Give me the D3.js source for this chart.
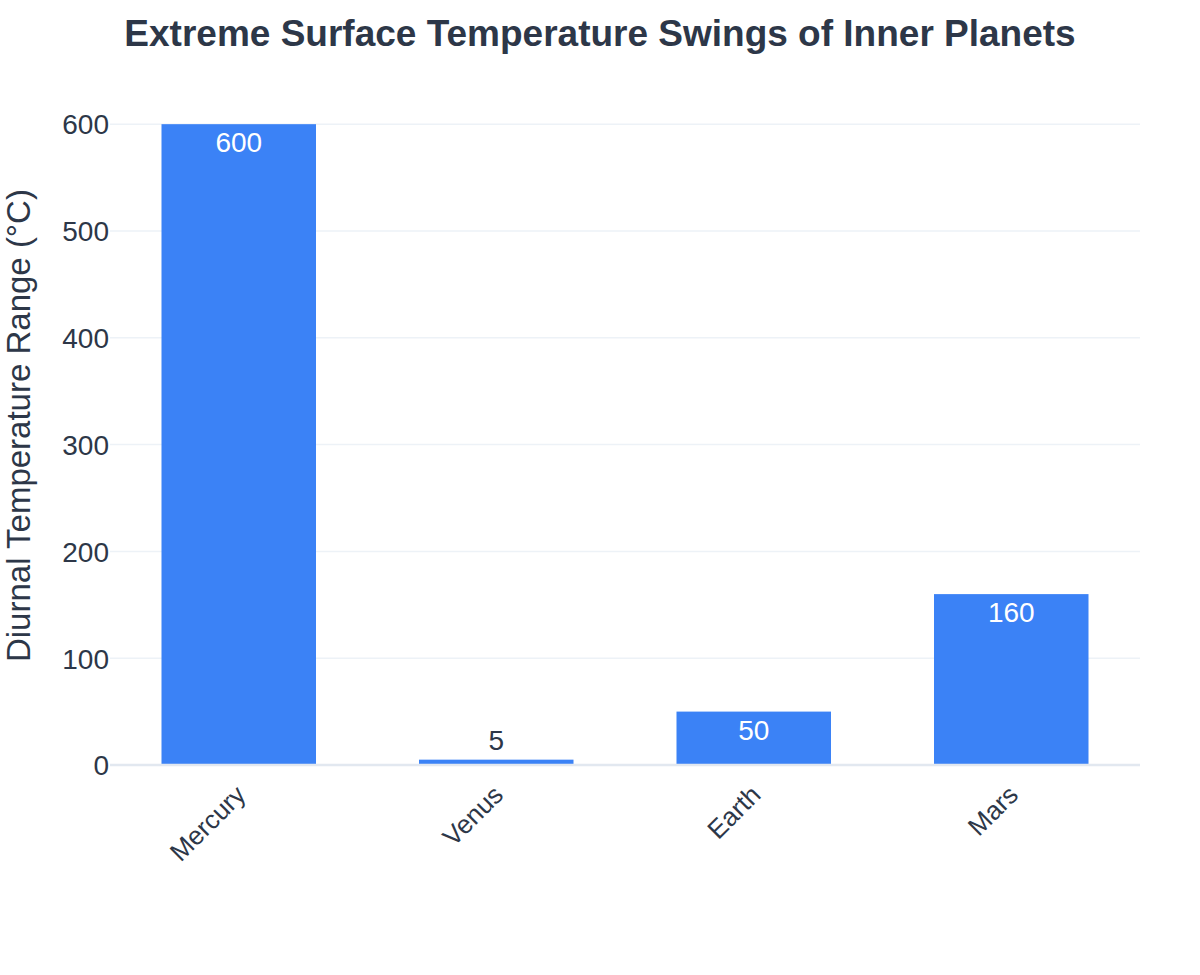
<!DOCTYPE html>
<html>
<head>
<meta charset="utf-8">
<script src="https://cdn.jsdelivr.net/npm/d3@7"></script>
<style>
    body { margin: 0; background: #fff; }
    svg { font-family: "Liberation Sans", Arial, sans-serif; }
</style>
</head>
<body>
<div id="chart"></div>
<script>
// Data
const planets = ['Mercury', 'Venus', 'Earth', 'Mars'];
const tempRange = [600, 5, 50, 160];
const yTicks = [0, 100, 200, 300, 400, 500, 600];

const width = 1200, height = 975;
const margin = { top: 90, right: 60, bottom: 210, left: 110 };
const textColor = '#2d3748';

const svg = d3.select('#chart')
    .append('svg')
    .attr('width', width)
    .attr('height', height);

const x = d3.scaleBand()
    .domain(planets)
    .range([margin.left, width - margin.right])
    .paddingInner(0.4)
    .paddingOuter(0.2);

const y = d3.scaleLinear()
    .domain([0, 632])
    .range([height - margin.bottom, margin.top]);

// Gridlines
svg.append('g')
    .selectAll('line')
    .data(yTicks.filter(d => d !== 0))
    .enter()
    .append('line')
    .attr('x1', margin.left)
    .attr('x2', width - margin.right)
    .attr('y1', d => y(d))
    .attr('y2', d => y(d))
    .style('stroke', '#edf2f7')
    .style('stroke-width', 1.5);

// Bars
svg.append('g')
    .selectAll('rect')
    .data(planets)
    .enter()
    .append('rect')
    .attr('x', d => x(d))
    .attr('width', x.bandwidth())
    .attr('y', (d, i) => y(tempRange[i]))
    .attr('height', (d, i) => y(0) - y(tempRange[i]))
    .attr('fill', '#3b82f6');

// Zero line
svg.append('line')
    .attr('x1', margin.left)
    .attr('x2', width - margin.right)
    .attr('y1', y(0))
    .attr('y2', y(0))
    .style('stroke', '#e2e8f0')
    .style('stroke-width', 2.5);

// Bar labels: inside near top if tall enough, else above
svg.append('g')
    .selectAll('text')
    .data(planets)
    .enter()
    .append('text')
    .attr('x', d => x(d) + x.bandwidth() / 2)
    .attr('y', (d, i) => {
        const h = y(0) - y(tempRange[i]);
        return h > 30 ? y(tempRange[i]) + 28 : y(tempRange[i]) - 10;
    })
    .attr('text-anchor', 'middle')
    .style('font-size', '28px')
    .style('fill', (d, i) => (y(0) - y(tempRange[i])) > 30 ? '#ffffff' : textColor)
    .text((d, i) => tempRange[i]);

// Y axis
const yAxis = svg.append('g')
    .attr('transform', `translate(${margin.left},0)`)
    .call(d3.axisLeft(y).tickValues(yTicks).tickSize(0).tickPadding(1));
yAxis.select('.domain').remove();
yAxis.selectAll('text')
    .attr('dy', '0.35em')
    .style('font-size', '28px')
    .style('font-family', '"Liberation Sans", Arial, sans-serif')
    .style('fill', textColor);

// X axis labels
svg.append('g')
    .selectAll('text')
    .data(planets)
    .enter()
    .append('text')
    .attr('transform', d => `translate(${x(d) + x.bandwidth() / 2 + 2},${y(0) + 25}) rotate(-45)`)
    .attr('text-anchor', 'end')
    .attr('dy', '0.35em')
    .style('font-size', '26px')
    .style('fill', textColor)
    .text(d => d);

// Y axis title
svg.append('text')
    .attr('transform', `translate(30,${(y(0) + y(600)) / 2 - 19}) rotate(-90)`)
    .attr('text-anchor', 'middle')
    .style('font-size', '33px')
    .style('fill', textColor)
    .text('Diurnal Temperature Range (°C)');

// Title
svg.append('text')
    .attr('x', width / 2)
    .attr('y', 46)
    .attr('text-anchor', 'middle')
    .style('font-size', '37px')
    .style('font-weight', 'bold')
    .style('fill', textColor)
    .text('Extreme Surface Temperature Swings of Inner Planets');
</script>
</body>
</html>
